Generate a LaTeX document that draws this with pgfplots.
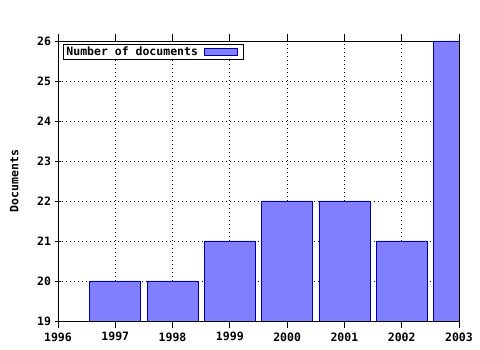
\documentclass[border=0pt]{standalone}
\usepackage{pgfplots}
\pgfplotsset{compat=1.18}
\usepackage{fontspec}
\setmainfont{DejaVu Sans Mono}
\definecolor{barfill}{HTML}{8080FF}
\definecolor{baredge}{HTML}{0000A0}
\begin{document}
\begin{tikzpicture}[x=1pt,y=1pt]
\path[use as bounding box] (-58,-29) rectangle (422,321);
\begin{axis}[
  at={(0,0)}, anchor=south west,
  scale only axis, width=401pt, height=280pt,
  xmin=1996, xmax=2003, ymin=19, ymax=26,
  xtick={1996,...,2003}, ytick={19,...,26},
  minor x tick num=4,
  ytick pos=left,
  /pgf/number format/1000 sep={},
  /pgf/number format/assume math mode=true,
  ticklabel style={font=\fontsize{11.5}{12}\selectfont\bfseries},
  grid=major,
  major grid style={black, dash pattern=on 1pt off 3pt, line width=0.8pt},
  tick align=center,
  major tick length=7pt,
  minor tick length=3pt,
  tick style={black, line width=0.8pt},
  axis line style={black, line width=0.8pt},
  ylabel={Documents},
  ylabel style={font=\fontsize{11.5}{12}\selectfont\bfseries, at={(axis description cs:0,0.5)}, anchor=south, yshift=36pt},
  xticklabel style={yshift=-1pt},
  ybar, bar width=51pt,
  legend plot pos=right,
  legend style={at={(axis description cs:0.0125,0.989)}, anchor=north west,
    draw=black, line width=0.8pt, font=\fontsize{11.5}{12}\selectfont\bfseries,
    inner xsep=1pt, inner ysep=0.5pt, row sep=0pt},
  legend image code/.code={\path[draw=none, fill=none] (-4pt,-3.5pt) rectangle (38pt,3.5pt); \draw[#1, line width=0.8pt] (0pt,-3.5pt) rectangle (33pt,3.5pt);},
]
\addplot[fill=barfill, draw=baredge, line width=0.8pt] coordinates {
  (1997,20) (1998,20) (1999,21) (2000,22) (2001,22) (2002,21) (2003,26)
};
\addlegendentry{Number of documents}
\end{axis}
\end{tikzpicture}
\end{document}
